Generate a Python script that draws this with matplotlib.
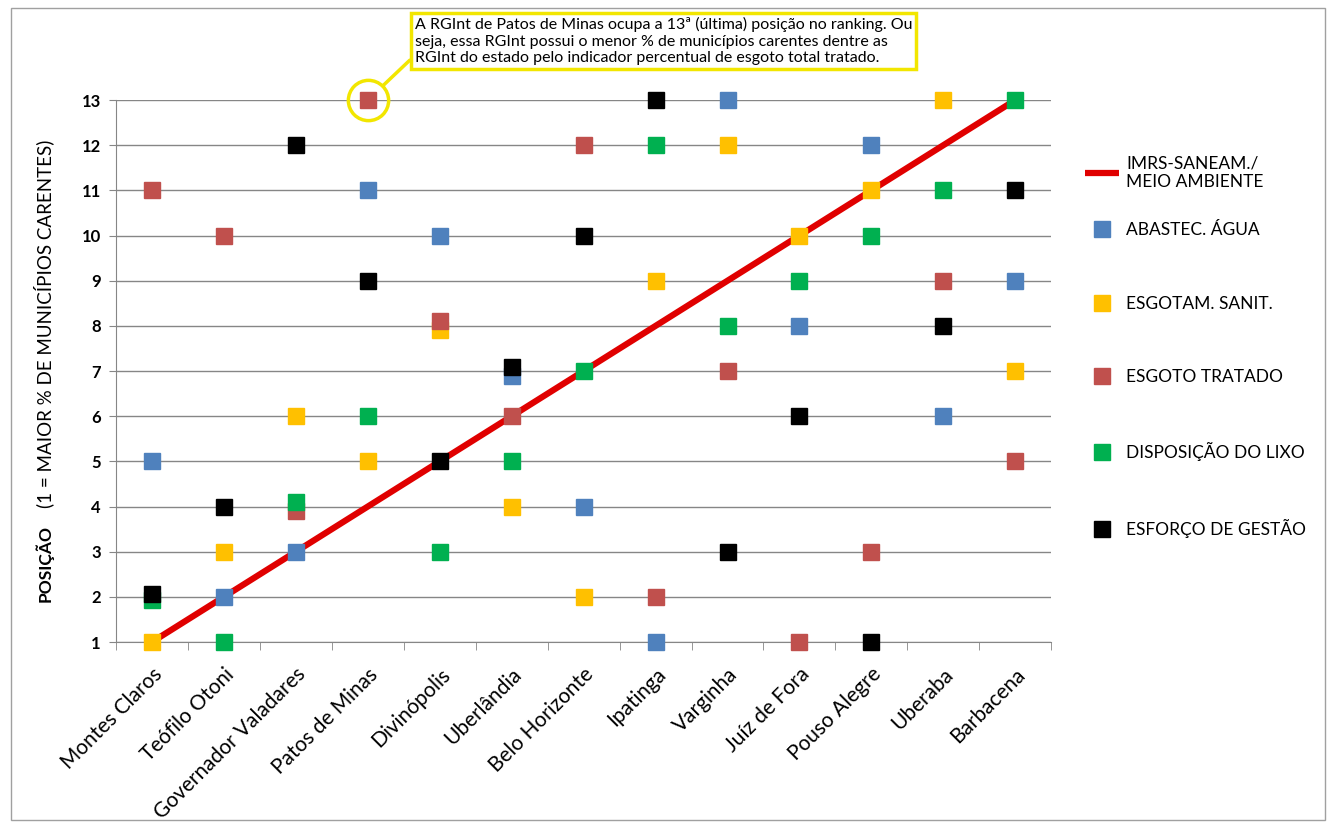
import matplotlib.pyplot as plt

# categories (RGInt) and position of each indicator in the ranking
regioes = ['Montes Claros', 'Teófilo Otoni', 'Governador Valadares', 'Patos de Minas',
           'Divinópolis', 'Uberlândia', 'Belo Horizonte', 'Ipatinga', 'Varginha',
           'Juíz de Fora', 'Pouso Alegre', 'Uberaba', 'Barbacena']
imrs = [1, 2, 3, 4, 5, 6, 7, 8, 9, 10, 11, 12, 13]
agua = [5, 2, 3, 11, 10, 6.9, 4, 1, 13, 8, 12, 6, 9]
esgotam = [1, 3, 6, 5, 7.9, 4, 2, 9, 12, 10, 11, 13, 7]
tratado = [11, 10, 3.9, 13, 8.1, 6, 12, 2, 7, 1, 3, 9, 5]
lixo = [1.93, 1, 4.1, 6, 3, 5, 7, 12, 8, 9, 10, 11, 13]
esforco = [2.07, 4, 12, 9, 5, 7.1, 10, 13, 3, 6, 1, 8, 11]

plt.rcParams['font.family'] = ['Lato', 'DejaVu Sans']

fig = plt.figure(figsize=(13.29, 8.27), dpi=100)
ax = fig.add_axes([0.0873, 0.2237, 0.7037, 0.6553])

x = list(range(len(regioes)))
linha, = ax.plot(x, imrs, color='#E00000', lw=4.5, zorder=2, solid_capstyle='butt',
                 label='IMRS-SANEAM./\nMEIO AMBIENTE')

series = [(agua, '#4F81BD', 'ABASTEC. ÁGUA'),
          (esgotam, '#FFC000', 'ESGOTAM. SANIT.'),
          (tratado, '#C0504D', 'ESGOTO TRATADO'),
          (lixo, '#00B050', 'DISPOSIÇÃO DO LIXO'),
          (esforco, '#000000', 'ESFORÇO DE GESTÃO')]
marcas = []
for i, (vals, cor, nome) in enumerate(series):
    m, = ax.plot(x, vals, 's', color=cor, markersize=11.5, ls='none', label=nome,
                 zorder=3 + i, clip_on=False)
    marcas.append(m)

ax.set_xlim(-0.5, len(regioes) - 0.5)
ax.set_ylim(1, 13)
ax.set_yticks(range(1, 14))
ax.set_yticklabels([str(v) for v in range(1, 14)], fontweight='bold', fontsize=12)
ax.set_xticks(x)
ax.set_xticklabels(regioes, rotation=45, ha='right', rotation_mode='anchor', fontsize=15)
ax.set_xticks([v - 0.5 for v in range(len(regioes) + 1)], minor=True)
ax.tick_params(axis='x', which='major', length=0, pad=16)
ax.tick_params(axis='x', which='minor', length=6, color='#868686')
ax.tick_params(axis='y', length=5, color='#868686', pad=6)
ax.grid(axis='y', color='#868686', lw=1)
ax.set_axisbelow(True)
for s in ['top', 'right']:
    ax.spines[s].set_visible(False)
for s in ['left', 'bottom']:
    ax.spines[s].set_color('#868686')

# y label with bold first word
fig.text(0.033, 1 - 602 / 827, 'POSIÇÃO', rotation=90, ha='center', va='bottom',
         fontsize=12.5, fontweight='bold')
fig.text(0.033, 1 - 140 / 827, '(1 = MAIOR % DE MUNICÍPIOS CARENTES)', rotation=90,
         ha='center', va='top', fontsize=13.5)

# highlight circle and note
ax.plot(3, 13, 'o', ms=29, mfc='none', mec='#F2E600', mew=2.5, clip_on=False, zorder=10)
ax.annotate('A RGInt de Patos de Minas ocupa a 13ª (última) posição no ranking. Ou\n'
            'seja, essa RGInt possui o menor % de municípios carentes dentre as\n'
            'RGInt do estado pelo indicador percentual de esgoto total tratado.',
            xy=(3, 13), xycoords='data', xytext=(415, 827 - 41), textcoords='figure pixels',
            ha='left', va='center', fontsize=11.5, linespacing=1.2,
            bbox=dict(boxstyle='square,pad=0.25', fc='white', ec='#F2E600', lw=2.5),
            arrowprops=dict(arrowstyle='-', color='#F2E600', lw=2.5,
                            shrinkA=0, shrinkB=15, relpos=(0, 0.2)),
            zorder=10)

leg1 = fig.legend(handles=[linha], loc='center left', bbox_to_anchor=(0.811, 1 - 173 / 827),
                  frameon=False, fontsize=12.5, handlelength=2.0, handletextpad=0.4,
                  borderaxespad=0)
leg2 = fig.legend(handles=marcas, loc='center left', bbox_to_anchor=(0.811, 1 - 380 / 827),
                  frameon=False, fontsize=12.5, labelspacing=3.3, handlelength=2.0,
                  handletextpad=0.4, borderaxespad=0)

# outer frame
fig.patches.append(plt.Rectangle((0.008, 0.008), 0.989, 0.982, transform=fig.transFigure,
                                 fill=False, ec='#A0A0A0', lw=1))

fig.savefig('out.png', dpi=100)
